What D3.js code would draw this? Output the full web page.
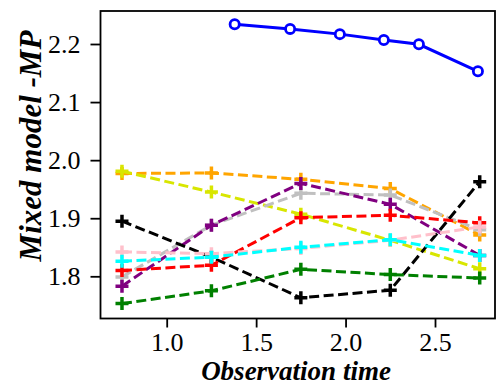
<!DOCTYPE html>
<html><head><meta charset="utf-8">
<script src="https://cdn.jsdelivr.net/npm/d3@7"></script>
<style>body{margin:0;background:#fff}svg{display:block}</style>
</head><body><div id="chart"></div>
<script>
const blueX = [1.38, 1.69, 1.968, 2.214, 2.41, 2.74];
const blueY = [2.234, 2.226, 2.217, 2.207, 2.1995, 2.153];
const obsX = [0.75, 1.25, 1.75, 2.25, 2.75];
const orangeY = [1.977, 1.978, 1.967, 1.951, 1.871];
const yellowY = [1.981, 1.945, 1.907, 1.862, 1.813];
const grayY   = [1.799, 1.888, 1.943, 1.940, 1.880];
const purpleY = [1.783, 1.888, 1.960, 1.924, 1.836];
const blackY  = [1.895, 1.833, 1.763, 1.776, 1.963];
const redY    = [1.810, 1.819, 1.901, 1.905, 1.892];
const pinkY   = [1.842, 1.839, 1.848, 1.862, 1.885];
const cyanY   = [1.826, 1.833, 1.850, 1.863, 1.836];
const greenY  = [1.753, 1.775, 1.812, 1.803, 1.797];
const xTicks = [1.0, 1.5, 2.0, 2.5];
const yTicks = [1.8, 1.9, 2.0, 2.1, 2.2];

const dashed = [
  {c:"orange", y:orangeY},
  {c:"#d8e600", y:yellowY},
  {c:"#c0c0c0", y:grayY},
  {c:"purple", y:purpleY},
  {c:"black", y:blackY},
  {c:"red", y:redY},
  {c:"pink", y:pinkY},
  {c:"cyan", y:cyanY},
  {c:"green", y:greenY}
];

const W = 496, H = 385;
const L = 100.5, R = 495, T = 11, B = 318.5;
const svg = d3.select("#chart").append("svg").attr("width", W).attr("height", H);
const x = d3.scaleLinear().domain([1.0, 2.5]).range([166.7, 435]);
const y = d3.scaleLinear().domain([1.8, 2.2]).range([276.3, 44]);
const font = "'Liberation Serif','Times New Roman',serif";

const g = svg.append("g");
const line = d3.line();

dashed.forEach(s => {
  const pts = obsX.map((v,i)=>[x(v), y(s.y[i])]);
  g.append("path").attr("d", line(pts)).attr("fill","none")
    .attr("stroke", s.c).attr("stroke-width", 3).attr("stroke-dasharray","10,4.5");
  pts.forEach(p => {
    g.append("path").attr("d", `M${p[0]-6.5},${p[1]}H${p[0]+6.5}M${p[0]},${p[1]-6.5}V${p[1]+6.5}`)
      .attr("stroke", s.c).attr("stroke-width", 3.5).attr("fill","none");
  });
});

const bpts = blueX.map((v,i)=>[x(v), y(blueY[i])]);
g.append("path").attr("d", line(bpts)).attr("fill","none")
  .attr("stroke","blue").attr("stroke-width",3);
g.selectAll(".bc").data(bpts).enter().append("circle")
  .attr("cx",d=>d[0]).attr("cy",d=>d[1]).attr("r",4.6)
  .attr("fill","white").attr("stroke","blue").attr("stroke-width",2.8);

// frame
svg.append("rect").attr("x",L).attr("y",T).attr("width",R-L).attr("height",B-T)
  .attr("fill","none").attr("stroke","black").attr("stroke-width",1.8);

const xa = svg.append("g").attr("transform",`translate(0,${B})`)
  .call(d3.axisBottom(x).tickValues(xTicks).tickFormat(d3.format(".1f")).tickSize(9).tickPadding(5));
const ya = svg.append("g").attr("transform",`translate(${L},0)`)
  .call(d3.axisLeft(y).tickValues(yTicks).tickFormat(d3.format(".1f")).tickSize(10).tickPadding(10));
[xa, ya].forEach(a => {
  a.select(".domain").remove();
  a.selectAll(".tick line").attr("stroke","black").attr("stroke-width",1.8);
  a.selectAll("text").attr("font-family", font).attr("font-size", 26).attr("fill","black");
});

svg.append("text").attr("x", 296).attr("y", 380).attr("text-anchor","middle")
  .attr("font-family", font).attr("font-size", 27).attr("font-weight","bold").attr("font-style","italic")
  .text("Observation time");
svg.append("text").attr("transform","translate(41,146) rotate(-90)").attr("text-anchor","middle")
  .attr("font-family", font).attr("font-size", 31).attr("font-weight","bold").attr("font-style","italic")
  .text("Mixed model -MP");
</script></body></html>
